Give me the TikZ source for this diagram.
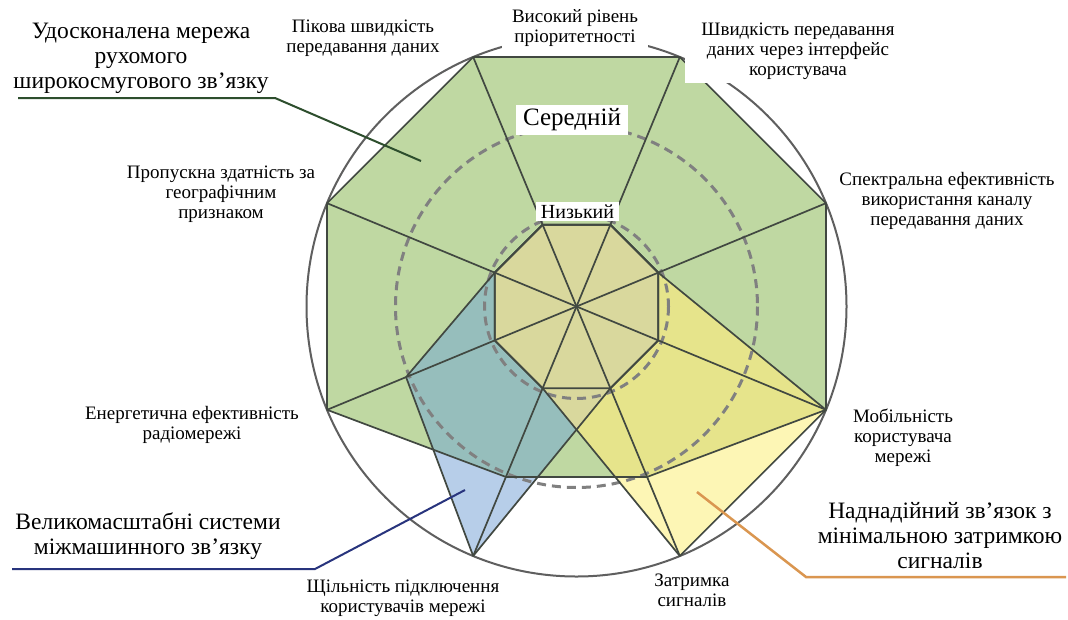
\documentclass[tikz,border=0pt]{standalone}
\usepackage{fontspec}
\setmainfont{Liberation Serif}
\usetikzlibrary{calc}
\definecolor{gfill}{RGB}{191,216,162}
\definecolor{bfill}{RGB}{183,206,233}
\definecolor{tfill}{RGB}{150,190,188}
\definecolor{yfill}{RGB}{253,246,181}
\definecolor{ygfill}{RGB}{230,228,139}
\definecolor{ifill}{RGB}{217,216,157}
\definecolor{edge}{RGB}{65,72,65}
\definecolor{dashc}{RGB}{128,128,128}
\definecolor{circc}{RGB}{95,95,95}
\definecolor{gcall}{RGB}{45,78,45}
\definecolor{bcall}{RGB}{40,52,125}
\definecolor{ocall}{RGB}{218,150,80}
\begin{document}
\begin{tikzpicture}[x=1pt,y=-1pt,
  lab/.style={font=\fontsize{19}{20}\selectfont, align=center, fill=white, inner sep=2pt},
  big/.style={font=\fontsize{23.5}{25}\selectfont, align=center, inner sep=1pt},
  lvl/.style={fill=white, inner xsep=7pt, inner ysep=4pt},
  edg/.style={draw=edge, line width=1.7pt, line join=round},
  dashcirc/.style={draw=dashc, line width=3pt, dash pattern=on 9pt off 6pt},
  callout/.style={line width=2pt},
  pG/.style={insert path={(O1)--(O2)--(O3)--(O4)--(M5)--(M6)--(O7)--(O8)--cycle}},
  pB/.style={insert path={(I1)--(I2)--(I3)--(I4)--(I5)--(O6)--(M7)--(I8)--cycle}},
  pY/.style={insert path={(I1)--(I2)--(I3)--(O4)--(O5)--(I6)--(I7)--(I8)--cycle}},
  pI/.style={insert path={(I1)--(I2)--(I3)--(I4)--(I5)--(I6)--(I7)--(I8)--cycle}}]
\useasboundingbox (0,0) rectangle (1068,619);
\fill[white] (0,0) rectangle (1068,619);
\coordinate (O) at (576.5,306.5);
\foreach \a [count=\i] in {112.5,67.5,22.5,-22.5,-67.5,-112.5,-157.5,157.5} {
  \coordinate (O\i) at ($(O)+(-\a:270)$);
  \coordinate (M\i) at ($(O)+(-\a:184.5)$);
  \coordinate (I\i) at ($(O)+(-\a:88.5)$);
}
% outer circle
\draw[circc, line width=2pt] (O) circle[radius=270];
% fills
\fill[gfill, pG];
\fill[bfill, pB];
\fill[yfill, pY];
\begin{scope}
  \clip[pG];
  \fill[tfill, pB];
  \fill[ygfill, pY];
\end{scope}
\begin{scope}
  \clip[pB];
  \fill[ifill, pY];
\end{scope}
% dashed circles
\draw[dashcirc] (O) circle[radius=181];
\draw[dashcirc] (O) circle[radius=92];
% outlines
\draw[edg, pG];
\draw[edg, pB];
\draw[edg, pY];
\draw[edg, pI];
\foreach \i/\j in {1/5,2/6,3/7,4/8} \draw[edg] (O\i) -- (O\j);
% level labels
\node[lvl, font=\fontsize{25}{25}\selectfont] (mid) at (572,120) {Середній};
\node[lvl, font=\fontsize{20}{20}\selectfont, inner xsep=5pt, inner ysep=3pt] (low) at (577.5,211.5) {Низький};
% axis labels
\node[lab] (peak) at (363,38) {Пікова швидкість\\передавання даних};
\node[lab, inner xsep=10pt] (high) at (575,28) {Високий рівень\\пріоритетності};
\node[lab, inner xsep=16pt, inner ysep=4pt] (user) at (798,51) {Швидкість передавання\\даних через інтерфейс\\користувача};
\node[lab] (spec) at (947,201) {Спектральна ефективність\\використання каналу\\передавання даних};
\node[lab] (area) at (221,194) {Пропускна здатність за\\географічним\\признаком};
\node[lab] (energy) at (192,425) {Енергетична ефективність\\радіомережі};
\node[lab] (mob) at (903,438) {Мобільність\\користувача\\мережі};
\node[lab] (lat) at (692,590) {Затримка\\сигналів};
\node[lab] (dens) at (403,598) {Щільність підключення\\користувачів мережі};
% group labels
\node[big] (embb) at (141,58) {Удосконалена мережа\\рухомого\\широкосмугового зв’язку};
\node[big] (mmtc) at (148,536) {Великомасштабні системи\\міжмашинного зв’язку};
\node[big] (urllc) at (940,536) {Наднадійний зв’язок з\\мінімальною затримкою\\сигналів};
% callouts
\coordinate (gA) at (18,98);
\coordinate (gB) at (275,98);
\coordinate (gC) at (421,161);
\coordinate (bA) at (12,569);
\coordinate (bB) at (315,569);
\coordinate (bC) at (465,490);
\coordinate (oA) at (1066,577);
\coordinate (oB) at (806,577);
\coordinate (oC) at (697,492);
\draw[callout, gcall] (gA) -- (gB) -- (gC);
\draw[callout, bcall] (bA) -- (bB) -- (bC);
\draw[callout, ocall, line width=2.5pt] (oA) -- (oB) -- (oC);
\end{tikzpicture}
\end{document}
